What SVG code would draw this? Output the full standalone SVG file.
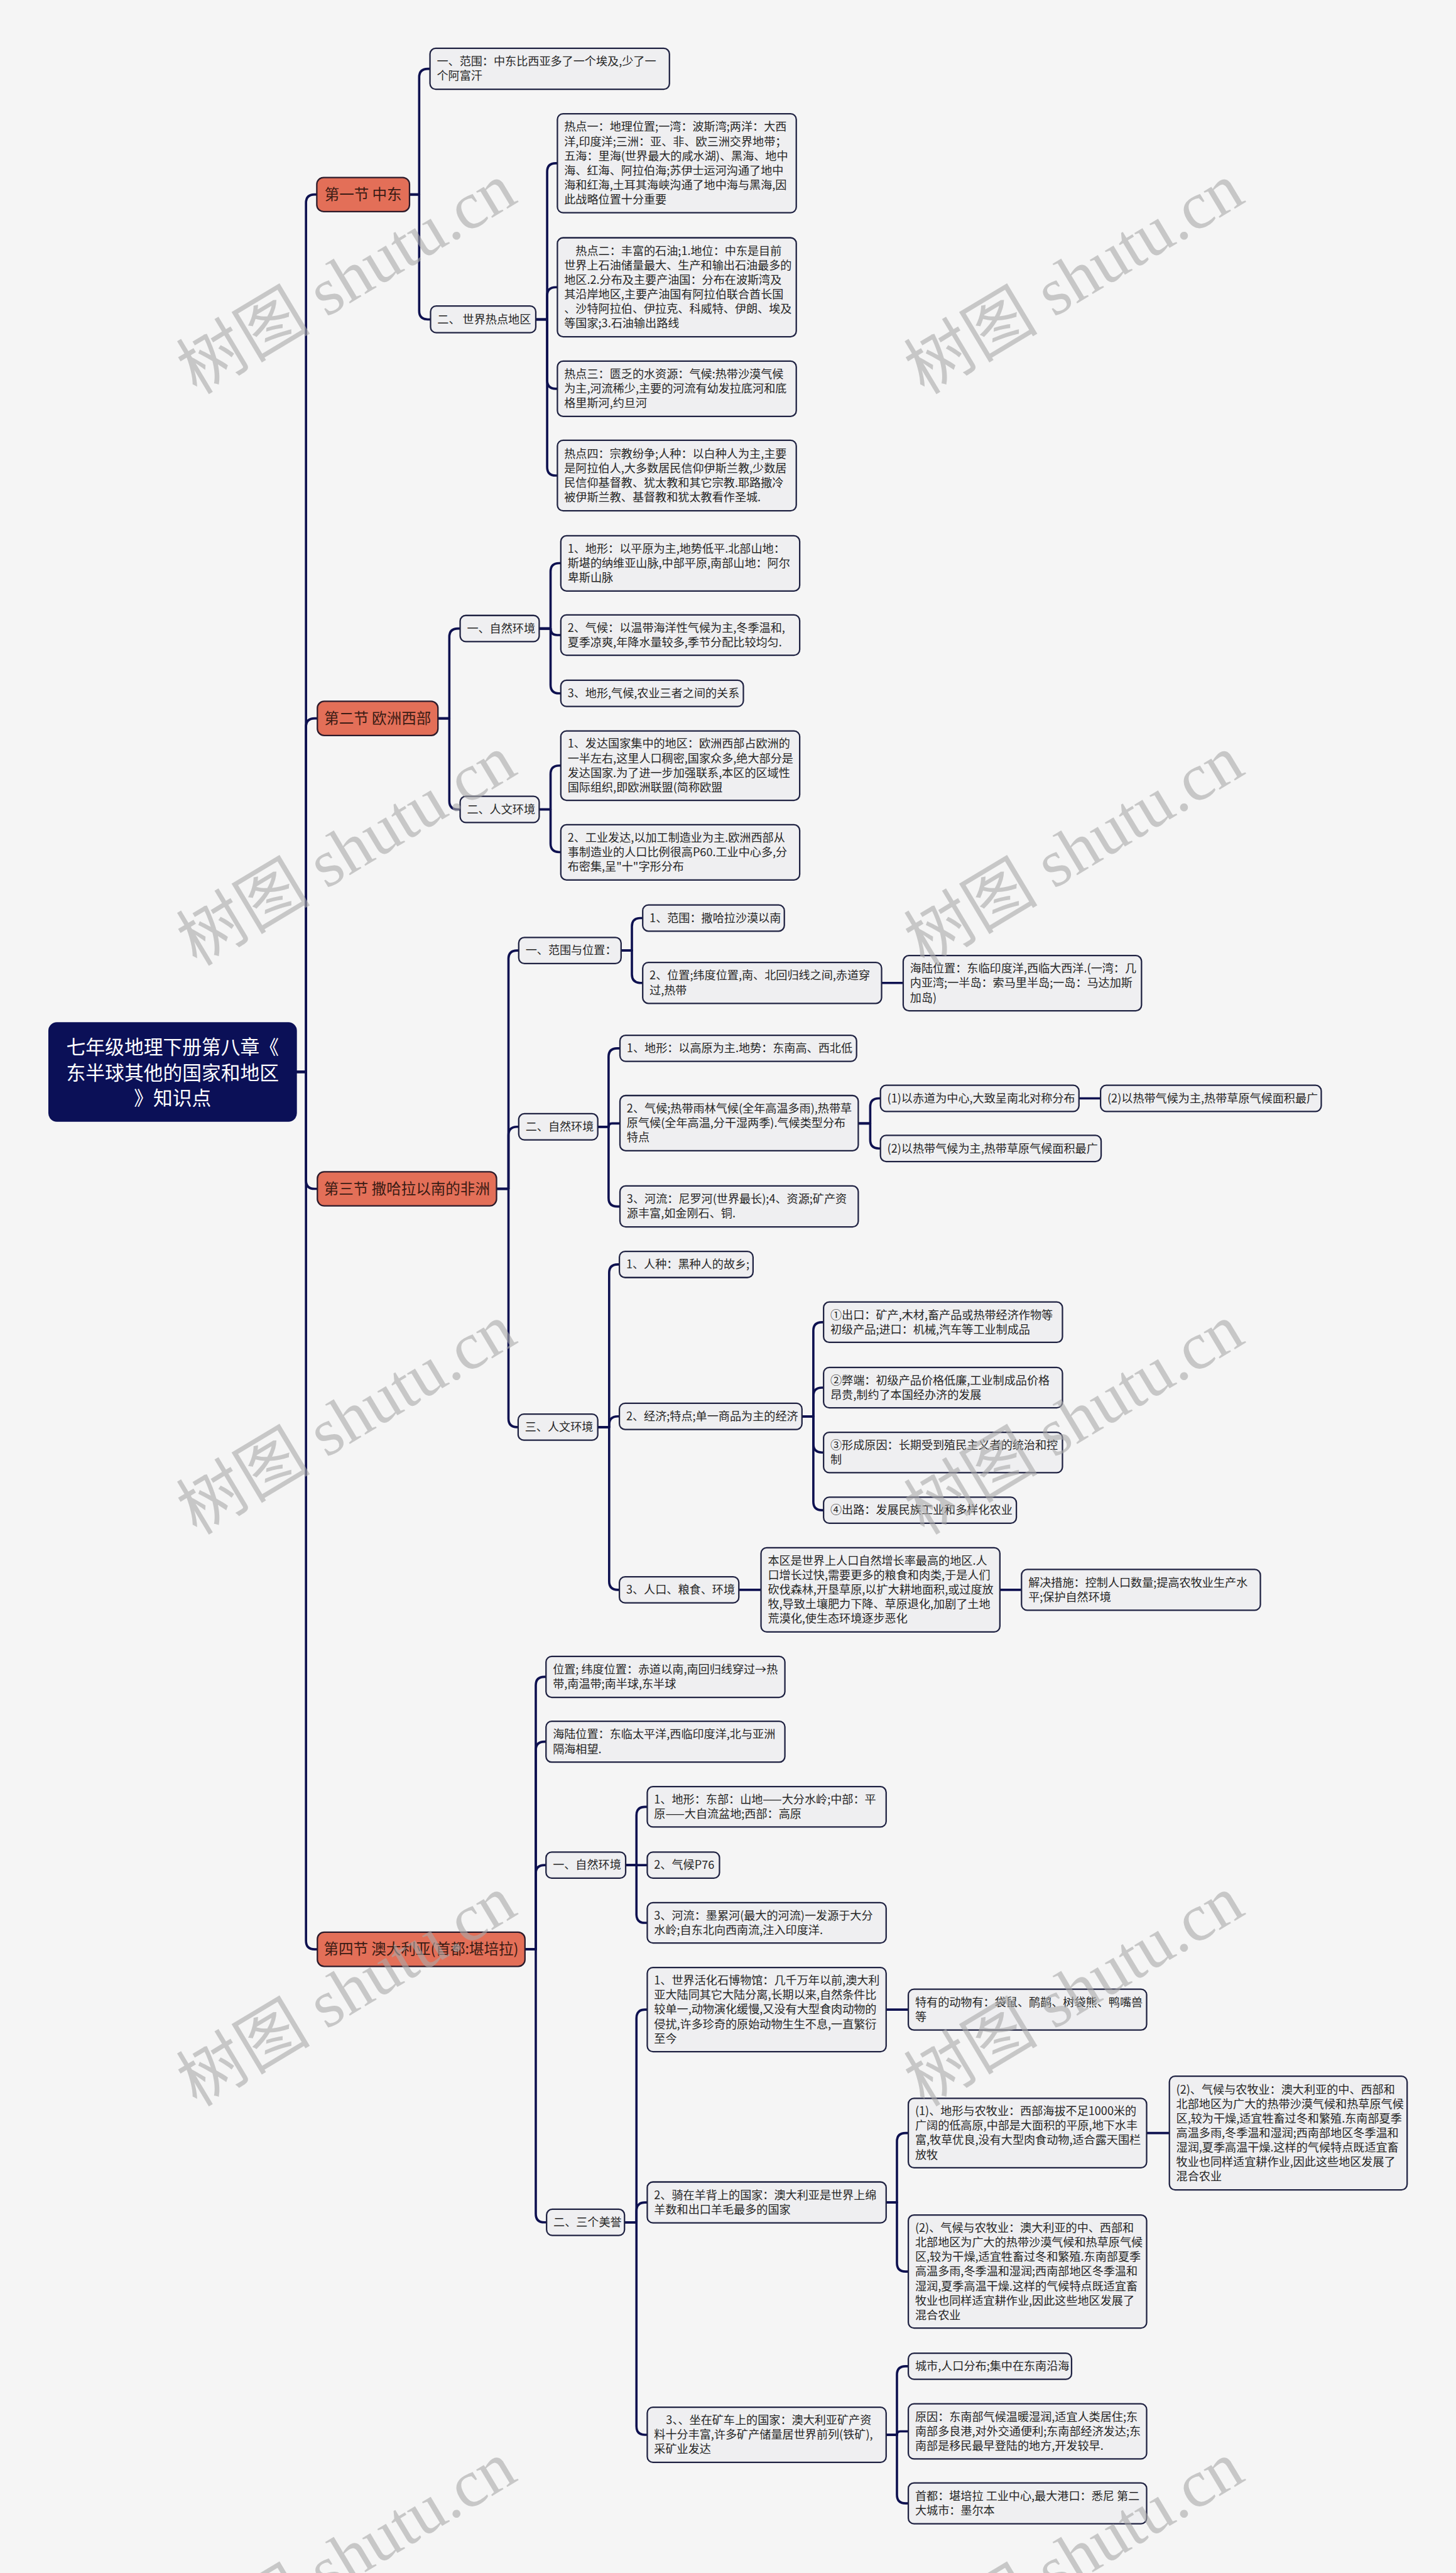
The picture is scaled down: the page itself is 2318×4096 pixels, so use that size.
<svg xmlns="http://www.w3.org/2000/svg" width="2318" height="4096" viewBox="0 0 2318 4096">
<style>
.n{fill:#efeff1;stroke:#1f2242;stroke-width:2.5}
.s{fill:#e36f58;stroke:#2b1a2a;stroke-width:2.5}
.r{fill:#0b1057;stroke:#0b1057;stroke-width:2}
.t{font-family:"Noto Sans CJK SC","Noto Sans",sans-serif;font-size:20px;fill:#262626}
.st{font-family:"Noto Sans CJK SC","Noto Sans",sans-serif;font-size:26px;fill:#3a1b14;text-anchor:middle}
.rt{font-family:"Noto Sans CJK SC","Noto Sans",sans-serif;font-size:34px;fill:#ffffff;text-anchor:middle}
.c path{fill:none;stroke:#0e1150;stroke-width:4;stroke-linejoin:round}
.wm{font-family:"Liberation Serif","Noto Sans CJK SC",serif;font-size:118px;fill:#aaaaaa;opacity:.6}
</style>
<rect x="0" y="0" width="2318" height="4096" fill="#f5f5f5"/>
<g transform="scale(0.9055)">
<g class="c" id="connectors">
<path d="M521 1884.5H538V357Q538 342 553 342H557"/>
<path d="M521 1884.5H538V1278Q538 1263 553 1263H558"/>
<path d="M521 1884.5H538V2075Q538 2090 553 2090H558"/>
<path d="M521 1884.5H538V3412Q538 3427 553 3427H558"/>
<path d="M720 342H737V136Q737 121 752 121H756"/>
<path d="M720 342H737V546.5Q737 561.5 752 561.5H757"/>
<path d="M942 561.5H962V302Q962 287 977 287H980"/>
<path d="M942 561.5H962V520Q962 505 977 505H980"/>
<path d="M942 561.5H962V668.5Q962 683.5 977 683.5H980"/>
<path d="M942 561.5H962V821Q962 836 977 836H980"/>
<path d="M770 1263H790V1120Q790 1105 805 1105H809"/>
<path d="M770 1263H790V1408Q790 1423 805 1423H809"/>
<path d="M948 1105H968V1005Q968 990 983 990H986"/>
<path d="M948 1105H968Q968 1116.5 979.5 1116.5H986"/>
<path d="M948 1105H968V1204Q968 1219 983 1219H986"/>
<path d="M948 1423H968V1361Q968 1346 983 1346H986"/>
<path d="M948 1423H968V1483Q968 1498 983 1498H986"/>
<path d="M873 2090H894V1686Q894 1671 909 1671H912"/>
<path d="M873 2090H894V1996Q894 1981 909 1981H912"/>
<path d="M873 2090H894V2494Q894 2509 909 2509H911"/>
<path d="M1092 1671H1111V1629Q1111 1614 1126 1614H1130"/>
<path d="M1092 1671H1111V1713Q1111 1728 1126 1728H1130"/>
<path d="M1550 1728H1588"/>
<path d="M1051 1981H1070V1858Q1070 1843 1085 1843H1090"/>
<path d="M1051 1981H1070Q1070 1975 1076 1975H1090"/>
<path d="M1051 1981H1070V2106Q1070 2121 1085 2121H1090"/>
<path d="M1509 1975H1530V1946Q1530 1931 1545 1931H1548"/>
<path d="M1509 1975H1530V2004Q1530 2019 1545 2019H1548"/>
<path d="M1897 1931H1935"/>
<path d="M1051 2509H1071V2238Q1071 2223 1086 2223H1089"/>
<path d="M1051 2509H1071V2505Q1071 2490 1086 2490H1089"/>
<path d="M1051 2509H1071V2780Q1071 2795 1086 2795H1089"/>
<path d="M1410 2490H1430V2339.5Q1430 2324.5 1445 2324.5H1448"/>
<path d="M1410 2490H1430V2454.5Q1430 2439.5 1445 2439.5H1448"/>
<path d="M1410 2490H1430V2538.5Q1430 2553.5 1445 2553.5H1448"/>
<path d="M1410 2490H1430V2640Q1430 2655 1445 2655H1448"/>
<path d="M1299 2795H1338"/>
<path d="M1758 2795H1796"/>
<path d="M923 3427H942V2963Q942 2948 957 2948H960"/>
<path d="M923 3427H942V3077Q942 3062 957 3062H960"/>
<path d="M923 3427H942V3294Q942 3279 957 3279H960"/>
<path d="M923 3427H942V3892Q942 3907 957 3907H961"/>
<path d="M1100 3279H1119V3191.5Q1119 3176.5 1134 3176.5H1138"/>
<path d="M1100 3279H1138"/>
<path d="M1100 3279H1119V3365.5Q1119 3380.5 1134 3380.5H1138"/>
<path d="M1098 3907H1119V3548Q1119 3533 1134 3533H1138"/>
<path d="M1098 3907H1119V3887Q1119 3872 1134 3872H1138"/>
<path d="M1098 3907H1119V4265.5Q1119 4280.5 1134 4280.5H1138"/>
<path d="M1558 3533H1597"/>
<path d="M1558 3872H1577V3765Q1577 3750 1592 3750H1597"/>
<path d="M1558 3872H1577V3978.5Q1577 3993.5 1592 3993.5H1597"/>
<path d="M2016 3750H2056"/>
<path d="M1558 4280.5H1577V4175Q1577 4160 1592 4160H1597"/>
<path d="M1558 4280.5H1577Q1577 4274.5 1583 4274.5H1597"/>
<path d="M1558 4280.5H1577V4386Q1577 4401 1592 4401H1597"/>
</g>

<g id="root"><rect class="r" x="86" y="1798" width="435" height="173" rx="14"/>
<text class="rt" x="303.5" y="1853"><tspan x="303.5">七年级地理下册第八章《</tspan><tspan x="303.5" dy="45">东半球其他的国家和地区</tspan><tspan x="303.5" dy="45">》知识点</tspan></text></g>

<g id="s1"><rect class="s" x="557" y="312" width="163" height="60" rx="12"/><text class="st" x="638.5" y="351">第一节 中东</text></g>
<g id="s1-a"><rect class="n" x="756" y="85" width="421" height="72" rx="10"/>
<text class="t" x="768" y="115.25"><tspan x="768">一、范围：中东比西亚多了一个埃及,少了一</tspan><tspan x="768" dy="25.5">个阿富汗</tspan></text></g>
<g id="s1-b"><rect class="n" x="757" y="538" width="185" height="47" rx="10"/><text class="t" x="769" y="568.5">二、 世界热点地区</text></g>
<g id="s1-b1"><rect class="n" x="980" y="200" width="420" height="174" rx="10"/>
<text class="t" x="992" y="230.25"><tspan x="992">热点一：地理位置;一湾：波斯湾;两洋：大西</tspan><tspan x="992" dy="25.5">洋,印度洋;三洲：亚、非、欧三洲交界地带；</tspan><tspan x="992" dy="25.5">五海：里海(世界最大的咸水湖)、黑海、地中</tspan><tspan x="992" dy="25.5">海、红海、阿拉伯海;苏伊士运河沟通了地中</tspan><tspan x="992" dy="25.5">海和红海,土耳其海峡沟通了地中海与黑海,因</tspan><tspan x="992" dy="25.5">此战略位置十分重要</tspan></text></g>
<g id="s1-b2"><rect class="n" x="980" y="418" width="420" height="174" rx="10"/>
<text class="t" x="1012" y="448.25"><tspan x="1012">热点二：丰富的石油;1.地位：中东是目前</tspan><tspan x="992" dy="25.5">世界上石油储量最大、生产和输出石油最多的</tspan><tspan x="992" dy="25.5">地区.2.分布及主要产油国：分布在波斯湾及</tspan><tspan x="992" dy="25.5">其沿岸地区,主要产油国有阿拉伯联合酋长国</tspan><tspan x="992" dy="25.5">、沙特阿拉伯、伊拉克、科威特、伊朗、埃及</tspan><tspan x="992" dy="25.5">等国家;3.石油输出路线</tspan></text></g>
<g id="s1-b3"><rect class="n" x="980" y="635" width="420" height="97" rx="10"/>
<text class="t" x="992" y="665"><tspan x="992">热点三：匮乏的水资源：气候:热带沙漠气候</tspan><tspan x="992" dy="25.5">为主,河流稀少,主要的河流有幼发拉底河和底</tspan><tspan x="992" dy="25.5">格里斯河,约旦河</tspan></text></g>
<g id="s1-b4"><rect class="n" x="980" y="774" width="420" height="124" rx="10"/>
<text class="t" x="992" y="804.75"><tspan x="992">热点四：宗教纷争;人种：以白种人为主,主要</tspan><tspan x="992" dy="25.5">是阿拉伯人,大多数居民信仰伊斯兰教,少数居</tspan><tspan x="992" dy="25.5">民信仰基督教、犹太教和其它宗教.耶路撒冷</tspan><tspan x="992" dy="25.5">被伊斯兰教、基督教和犹太教看作圣城.</tspan></text></g>

<g id="s2"><rect class="s" x="558" y="1233" width="212" height="60" rx="12"/><text class="st" x="664" y="1272">第二节 欧洲西部</text></g>
<g id="s2-a"><rect class="n" x="809" y="1082" width="139" height="46" rx="10"/><text class="t" x="821" y="1112">一、自然环境</text></g>
<g id="s2-a1"><rect class="n" x="986" y="942" width="420" height="97" rx="10"/>
<text class="t" x="998" y="972"><tspan x="998">1、地形：以平原为主,地势低平.北部山地：</tspan><tspan x="998" dy="25.5">斯堪的纳维亚山脉,中部平原,南部山地：阿尔</tspan><tspan x="998" dy="25.5">卑斯山脉</tspan></text></g>
<g id="s2-a2"><rect class="n" x="986" y="1081" width="420" height="71" rx="10"/>
<text class="t" x="998" y="1110.75"><tspan x="998">2、气候：以温带海洋性气候为主,冬季温和,</tspan><tspan x="998" dy="25.5">夏季凉爽,年降水量较多,季节分配比较均匀.</tspan></text></g>
<g id="s2-a3"><rect class="n" x="986" y="1196" width="321" height="46" rx="10"/><text class="t" x="998" y="1226">3、地形,气候,农业三者之间的关系</text></g>
<g id="s2-b"><rect class="n" x="809" y="1400" width="139" height="46" rx="10"/><text class="t" x="821" y="1430">二、人文环境</text></g>
<g id="s2-b1"><rect class="n" x="986" y="1285" width="420" height="122" rx="10"/>
<text class="t" x="998" y="1314.75"><tspan x="998">1、发达国家集中的地区：欧洲西部占欧洲的</tspan><tspan x="998" dy="25.5">一半左右,这里人口稠密,国家众多,绝大部分是</tspan><tspan x="998" dy="25.5">发达国家.为了进一步加强联系,本区的区域性</tspan><tspan x="998" dy="25.5">国际组织,即欧洲联盟(简称欧盟</tspan></text></g>
<g id="s2-b2"><rect class="n" x="986" y="1450" width="420" height="97" rx="10"/>
<text class="t" x="998" y="1480"><tspan x="998">2、工业发达,以加工制造业为主.欧洲西部从</tspan><tspan x="998" dy="25.5">事制造业的人口比例很高P60.工业中心多,分</tspan><tspan x="998" dy="25.5">布密集,呈"十"字形分布</tspan></text></g>

<g id="s3"><rect class="s" x="558" y="2060" width="315" height="60" rx="12"/><text class="st" x="715.5" y="2099">第三节 撒哈拉以南的非洲</text></g>
<g id="s3-a"><rect class="n" x="912" y="1648" width="180" height="46" rx="10"/><text class="t" x="924" y="1678">一、范围与位置：</text></g>
<g id="s3-a1"><rect class="n" x="1130" y="1591" width="249" height="46" rx="10"/><text class="t" x="1142" y="1621">1、范围：撒哈拉沙漠以南</text></g>
<g id="s3-a2"><rect class="n" x="1130" y="1692" width="420" height="72" rx="10"/>
<text class="t" x="1142" y="1722.25"><tspan x="1142">2、位置;纬度位置,南、北回归线之间,赤道穿</tspan><tspan x="1142" dy="25.5">过,热带</tspan></text></g>
<g id="s3-a2a"><rect class="n" x="1588" y="1680" width="419" height="97" rx="10"/>
<text class="t" x="1600" y="1710"><tspan x="1600">海陆位置：东临印度洋,西临大西洋.(一湾：几</tspan><tspan x="1600" dy="25.5">内亚湾;一半岛：索马里半岛;一岛：马达加斯</tspan><tspan x="1600" dy="25.5">加岛)</tspan></text></g>
<g id="s3-b"><rect class="n" x="912" y="1958" width="139" height="46" rx="10"/><text class="t" x="924" y="1988">二、自然环境</text></g>
<g id="s3-b1"><rect class="n" x="1090" y="1820" width="416" height="46" rx="10"/><text class="t" x="1102" y="1850">1、地形：以高原为主.地势：东南高、西北低</text></g>
<g id="s3-b2"><rect class="n" x="1090" y="1926" width="419" height="97" rx="10"/>
<text class="t" x="1102" y="1956"><tspan x="1102">2、气候;热带雨林气候(全年高温多雨),热带草</tspan><tspan x="1102" dy="25.5">原气候(全年高温,分干湿两季).气候类型分布</tspan><tspan x="1102" dy="25.5">特点</tspan></text></g>
<g id="s3-b2a"><rect class="n" x="1548" y="1908" width="349" height="46" rx="10"/><text class="t" x="1560" y="1938">(1)以赤道为中心,大致呈南北对称分布</text></g>
<g id="s3-b2a1"><rect class="n" x="1935" y="1908" width="388" height="46" rx="10"/><text class="t" x="1947" y="1938">(2)以热带气候为主,热带草原气候面积最广</text></g>
<g id="s3-b2b"><rect class="n" x="1548" y="1996" width="388" height="46" rx="10"/><text class="t" x="1560" y="2026">(2)以热带气候为主,热带草原气候面积最广</text></g>
<g id="s3-b3"><rect class="n" x="1090" y="2085" width="419" height="72" rx="10"/>
<text class="t" x="1102" y="2115.25"><tspan x="1102">3、河流：尼罗河(世界最长);4、资源;矿产资</tspan><tspan x="1102" dy="25.5">源丰富,如金刚石、铜.</tspan></text></g>
<g id="s3-c"><rect class="n" x="911" y="2486" width="140" height="46" rx="10"/><text class="t" x="923" y="2516">三、人文环境</text></g>
<g id="s3-c1"><rect class="n" x="1089" y="2200" width="235" height="46" rx="10"/><text class="t" x="1101" y="2230">1、人种：黑种人的故乡;</text></g>
<g id="s3-c2"><rect class="n" x="1089" y="2467" width="321" height="46" rx="10"/><text class="t" x="1101" y="2497">2、经济;特点;单一商品为主的经济</text></g>
<g id="s3-c2a"><rect class="n" x="1448" y="2289" width="420" height="71" rx="10"/>
<text class="t" x="1460" y="2318.75"><tspan x="1460">①出口：矿产,木材,畜产品或热带经济作物等</tspan><tspan x="1460" dy="25.5">初级产品;进口：机械,汽车等工业制成品</tspan></text></g>
<g id="s3-c2b"><rect class="n" x="1448" y="2404" width="420" height="71" rx="10"/>
<text class="t" x="1460" y="2433.75"><tspan x="1460">②弊端：初级产品价格低廉,工业制成品价格</tspan><tspan x="1460" dy="25.5">昂贵,制约了本国经办济的发展</tspan></text></g>
<g id="s3-c2c"><rect class="n" x="1448" y="2518" width="420" height="71" rx="10"/>
<text class="t" x="1460" y="2547.75"><tspan x="1460">③形成原因：长期受到殖民主义者的统治和控</tspan><tspan x="1460" dy="25.5">制</tspan></text></g>
<g id="s3-c2d"><rect class="n" x="1448" y="2632" width="339" height="46" rx="10"/><text class="t" x="1460" y="2662">④出路：发展民族工业和多样化农业</text></g>
<g id="s3-c3"><rect class="n" x="1089" y="2772" width="210" height="46" rx="10"/><text class="t" x="1101" y="2802">3、人口、粮食、环境</text></g>
<g id="s3-c3a"><rect class="n" x="1338" y="2721" width="420" height="148" rx="10"/>
<text class="t" x="1350" y="2751"><tspan x="1350">本区是世界上人口自然增长率最高的地区.人</tspan><tspan x="1350" dy="25.5">口增长过快,需要更多的粮食和肉类,于是人们</tspan><tspan x="1350" dy="25.5">砍伐森林,开垦草原,以扩大耕地面积,或过度放</tspan><tspan x="1350" dy="25.5">牧,导致土壤肥力下降、草原退化,加剧了土地</tspan><tspan x="1350" dy="25.5">荒漠化,使生态环境逐步恶化</tspan></text></g>
<g id="s3-c3b"><rect class="n" x="1796" y="2759" width="420" height="72" rx="10"/>
<text class="t" x="1808" y="2789.25"><tspan x="1808">解决措施：控制人口数量;提高农牧业生产水</tspan><tspan x="1808" dy="25.5">平;保护自然环境</tspan></text></g>

<g id="s4"><rect class="s" x="558" y="3397" width="365" height="60" rx="12"/><text class="st" x="740.5" y="3436">第四节 澳大利亚(首都:堪培拉)</text></g>
<g id="s4-a"><rect class="n" x="960" y="2912" width="420" height="72" rx="10"/>
<text class="t" x="972" y="2942.25"><tspan x="972">位置; 纬度位置：赤道以南,南回归线穿过→热</tspan><tspan x="972" dy="25.5">带,南温带;南半球,东半球</tspan></text></g>
<g id="s4-b"><rect class="n" x="960" y="3026" width="420" height="72" rx="10"/>
<text class="t" x="972" y="3056.25"><tspan x="972">海陆位置：东临太平洋,西临印度洋,北与亚洲</tspan><tspan x="972" dy="25.5">隔海相望.</tspan></text></g>
<g id="s4-c"><rect class="n" x="960" y="3256" width="140" height="46" rx="10"/><text class="t" x="972" y="3286">一、自然环境</text></g>
<g id="s4-c1"><rect class="n" x="1138" y="3141" width="420" height="71" rx="10"/>
<text class="t" x="1150" y="3170.75"><tspan x="1150">1、地形：东部：山地——大分水岭;中部：平</tspan><tspan x="1150" dy="25.5">原——大自流盆地;西部：高原</tspan></text></g>
<g id="s4-c2"><rect class="n" x="1138" y="3256" width="127" height="46" rx="10"/><text class="t" x="1150" y="3286">2、气候P76</text></g>
<g id="s4-c3"><rect class="n" x="1138" y="3345" width="420" height="71" rx="10"/>
<text class="t" x="1150" y="3374.75"><tspan x="1150">3、河流：墨累河(最大的河流)一发源于大分</tspan><tspan x="1150" dy="25.5">水岭;自东北向西南流,注入印度洋.</tspan></text></g>
<g id="s4-d"><rect class="n" x="961" y="3884" width="137" height="46" rx="10"/><text class="t" x="973" y="3914">二、三个美誉</text></g>
<g id="s4-d1"><rect class="n" x="1138" y="3459" width="420" height="148" rx="10"/>
<text class="t" x="1150" y="3489"><tspan x="1150">1、世界活化石博物馆：几千万年以前,澳大利</tspan><tspan x="1150" dy="25.5">亚大陆同其它大陆分离,长期以来,自然条件比</tspan><tspan x="1150" dy="25.5">较单一,动物演化缓慢,又没有大型食肉动物的</tspan><tspan x="1150" dy="25.5">侵扰,许多珍奇的原始动物生生不息,一直繁衍</tspan><tspan x="1150" dy="25.5">至今</tspan></text></g>
<g id="s4-d1a"><rect class="n" x="1597" y="3497" width="419" height="72" rx="10"/>
<text class="t" x="1609" y="3527.25"><tspan x="1609">特有的动物有：袋鼠、鸸鹋、树袋熊、鸭嘴兽</tspan><tspan x="1609" dy="25.5">等</tspan></text></g>
<g id="s4-d2"><rect class="n" x="1138" y="3836" width="420" height="72" rx="10"/>
<text class="t" x="1150" y="3866.25"><tspan x="1150">2、骑在羊背上的国家：澳大利亚是世界上绵</tspan><tspan x="1150" dy="25.5">羊数和出口羊毛最多的国家</tspan></text></g>
<g id="s4-d2a"><rect class="n" x="1597" y="3689" width="419" height="122" rx="10"/>
<text class="t" x="1609" y="3718.75"><tspan x="1609">(1)、地形与农牧业：西部海拔不足1000米的</tspan><tspan x="1609" dy="25.5">广阔的低高原,中部是大面积的平原,地下水丰</tspan><tspan x="1609" dy="25.5">富,牧草优良,没有大型肉食动物,适合露天围栏</tspan><tspan x="1609" dy="25.5">放牧</tspan></text></g>
<g id="s4-d2a1"><rect class="n" x="2056" y="3650" width="418" height="200" rx="10"/>
<text class="t" x="2068" y="3680.5"><tspan x="2068">(2)、气候与农牧业：澳大利亚的中、西部和</tspan><tspan x="2068" dy="25.5">北部地区为广大的热带沙漠气候和热草原气候</tspan><tspan x="2068" dy="25.5">区,较为干燥,适宜牲畜过冬和繁殖.东南部夏季</tspan><tspan x="2068" dy="25.5">高温多雨,冬季温和湿润;西南部地区冬季温和</tspan><tspan x="2068" dy="25.5">湿润,夏季高温干燥.这样的气候特点既适宜畜</tspan><tspan x="2068" dy="25.5">牧业也同样适宜耕作业,因此这些地区发展了</tspan><tspan x="2068" dy="25.5">混合农业</tspan></text></g>
<g id="s4-d2b"><rect class="n" x="1597" y="3894" width="419" height="199" rx="10"/>
<text class="t" x="1609" y="3924"><tspan x="1609">(2)、气候与农牧业：澳大利亚的中、西部和</tspan><tspan x="1609" dy="25.5">北部地区为广大的热带沙漠气候和热草原气候</tspan><tspan x="1609" dy="25.5">区,较为干燥,适宜牲畜过冬和繁殖.东南部夏季</tspan><tspan x="1609" dy="25.5">高温多雨,冬季温和湿润;西南部地区冬季温和</tspan><tspan x="1609" dy="25.5">湿润,夏季高温干燥.这样的气候特点既适宜畜</tspan><tspan x="1609" dy="25.5">牧业也同样适宜耕作业,因此这些地区发展了</tspan><tspan x="1609" dy="25.5">混合农业</tspan></text></g>
<g id="s4-d3"><rect class="n" x="1138" y="4232" width="420" height="97" rx="10"/>
<text class="t" x="1171" y="4262"><tspan x="1171">3、、坐在矿车上的国家：澳大利亚矿产资</tspan><tspan x="1150" dy="25.5">料十分丰富,许多矿产储量居世界前列(铁矿),</tspan><tspan x="1150" dy="25.5">采矿业发达</tspan></text></g>
<g id="s4-d3a"><rect class="n" x="1597" y="4137" width="287" height="46" rx="10"/><text class="t" x="1609" y="4167">城市,人口分布;集中在东南沿海</text></g>
<g id="s4-d3b"><rect class="n" x="1597" y="4226" width="419" height="97" rx="10"/>
<text class="t" x="1609" y="4256"><tspan x="1609">原因：东南部气候温暖湿润,适宜人类居住;东</tspan><tspan x="1609" dy="25.5">南部多良港,对外交通便利;东南部经济发达;东</tspan><tspan x="1609" dy="25.5">南部是移民最早登陆的地方,开发较早.</tspan></text></g>
<g id="s4-d3c"><rect class="n" x="1597" y="4365" width="419" height="72" rx="10"/>
<text class="t" x="1609" y="4395.25"><tspan x="1609">首都：堪培拉 工业中心,最大港口：悉尼 第二</tspan><tspan x="1609" dy="25.5">大城市：墨尔本</tspan></text></g>

<g id="watermarks">
<text class="wm" transform="translate(346 695) rotate(-31)">树图 shutu.cn</text>
<text class="wm" transform="translate(1625 695) rotate(-31)">树图 shutu.cn</text>
<text class="wm" transform="translate(346 1700) rotate(-31)">树图 shutu.cn</text>
<text class="wm" transform="translate(1625 1700) rotate(-31)">树图 shutu.cn</text>
<text class="wm" transform="translate(346 2700) rotate(-31)">树图 shutu.cn</text>
<text class="wm" transform="translate(1625 2700) rotate(-31)">树图 shutu.cn</text>
<text class="wm" transform="translate(346 3705) rotate(-31)">树图 shutu.cn</text>
<text class="wm" transform="translate(1625 3705) rotate(-31)">树图 shutu.cn</text>
<text class="wm" transform="translate(346 4700) rotate(-31)">树图 shutu.cn</text>
<text class="wm" transform="translate(1625 4700) rotate(-31)">树图 shutu.cn</text>
</g>
</g>
</svg>
